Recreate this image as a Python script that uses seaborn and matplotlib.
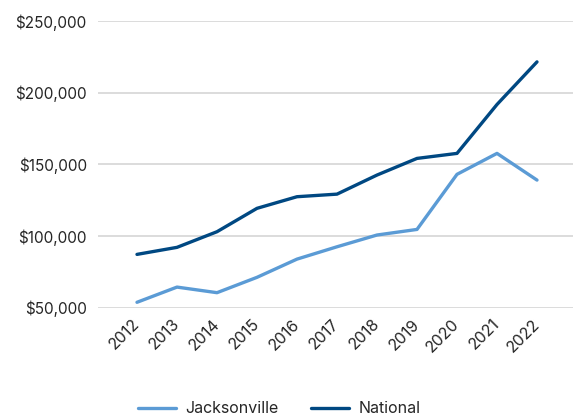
import matplotlib
matplotlib.use("Agg")
import matplotlib.pyplot as plt
import seaborn as sns
import pandas as pd
from matplotlib.ticker import FuncFormatter

years = ["2012", "2013", "2014", "2015", "2016", "2017", "2018", "2019", "2020", "2021", "2022"]
jacksonville = [53800, 64400, 60500, 71200, 83900, 92500, 100700, 104600, 143000, 157600, 139000]
national = [87200, 92100, 103000, 119300, 127400, 129200, 142500, 154100, 157600, 191700, 221400]
series_names = ["Jacksonville", "National"]
colors = ["#5B9BD5", "#004882"]
y_ticks = [50000, 100000, 150000, 200000, 250000]

df = pd.DataFrame({
    "Year": years * 2,
    "Value": jacksonville + national,
    "Series": [series_names[0]] * len(years) + [series_names[1]] * len(years),
})

sns.set_theme(style="white")
plt.rcParams["font.family"] = ["Inter", "DejaVu Sans"]

fig = plt.figure(figsize=(5.73, 4.17), dpi=100)
ax = fig.add_axes([0.171, 0.262, 0.829, 0.688])

sns.lineplot(data=df, x="Year", y="Value", hue="Series", palette=colors,
             linewidth=2.4, ax=ax, legend=True, sort=False, zorder=3)

ax.set_xlim(-0.975, 10.9)
ax.set_ylim(50000, 250000)
ax.set_yticks(y_ticks)
ax.yaxis.set_major_formatter(FuncFormatter(lambda v, p: f"${v:,.0f}"))
ax.grid(axis="y", color="#d9d9d9", linewidth=1.3, zorder=0)
ax.grid(axis="x", visible=False)
for s in ax.spines.values():
    s.set_visible(False)
ax.set_xlabel("")
ax.set_ylabel("")
ax.tick_params(axis="y", length=0, pad=8, labelsize=11, labelcolor="#262626")
ax.tick_params(axis="x", length=0, pad=10, labelsize=11.5, labelcolor="#262626")
for lbl in ax.get_xticklabels():
    lbl.set_rotation(45)
    lbl.set_ha("right")
    lbl.set_rotation_mode("anchor")
    lbl.set_va("center")

for line in ax.get_lines():
    line.set_clip_on(False)

handles, labels = ax.get_legend_handles_labels()
ax.legend_.remove()
fig.legend(handles, labels, loc="center", bbox_to_anchor=(0.487, 0.02), ncol=2,
           frameon=False, fontsize=11.5, handlelength=2.4, columnspacing=2.0,
           handletextpad=0.6, labelcolor="#262626")

fig.savefig("out.png", dpi=100)
